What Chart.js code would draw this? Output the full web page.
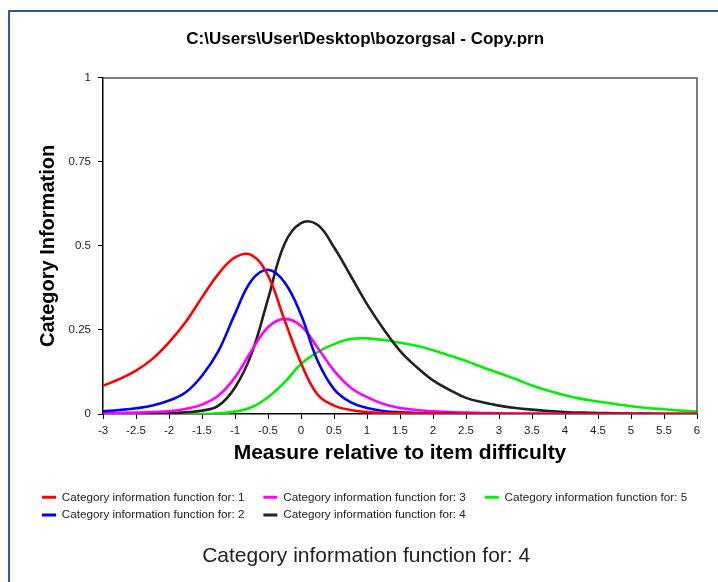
<!DOCTYPE html>
<html>
<head>
<meta charset="utf-8">
<script src="https://cdn.jsdelivr.net/npm/chart.js@4.4.1/dist/chart.umd.min.js"></script>
<style>
  html, body { margin: 0; padding: 0; background: #fff; overflow: hidden; }
  #frame { position: absolute; left: 8px; top: 10px; width: 800px; height: 700px; border: 2px solid #2f5c97; }
  #info-chart { position: absolute; left: 0; top: 0; }
</style>
</head>
<body>
<div id="frame"></div>
<canvas id="info-chart" width="718" height="582"></canvas>
<script>
// measure grid (logits relative to item difficulty)
let measures = [-3, -2.75, -2.5, -2.25, -2, -1.75, -1.5, -1.25, -1, -0.75, -0.5, -0.25, 0, 0.25, 0.5, 0.75, 1, 1.25, 1.5,
    1.75, 2, 2.25, 2.5, 2.75, 3, 3.25, 3.5, 3.75, 4, 4.25, 4.5, 4.75, 5, 5.25, 5.5, 5.75, 6];

// category information
let cat1 = [0.084, 0.104, 0.129, 0.164, 0.213, 0.273, 0.347, 0.417, 0.466, 0.473, 0.412, 0.28, 0.152, 0.058, 0.025, 0.012,
    0.006, 0.003, 0.002, 0.001, 0.001, 0, 0, 0, 0, 0, 0, 0, 0, 0, 0, 0, 0, 0, 0, 0, 0];
let cat2 = [0.008, 0.012, 0.017, 0.025, 0.04, 0.064, 0.114, 0.188, 0.298, 0.397, 0.429, 0.392, 0.295, 0.159, 0.074, 0.035,
    0.018, 0.009, 0.005, 0.003, 0.002, 0.001, 0, 0, 0, 0, 0, 0, 0, 0, 0, 0, 0, 0, 0, 0, 0];
let cat3 = [0.002, 0.003, 0.004, 0.006, 0.008, 0.015, 0.028, 0.055, 0.109, 0.188, 0.258, 0.283, 0.262, 0.198, 0.129, 0.079,
    0.05, 0.03, 0.018, 0.012, 0.008, 0.006, 0.004, 0.003, 0.002, 0.001, 0.001, 0, 0, 0, 0, 0, 0, 0, 0, 0, 0];
let cat4 = [0, 0, 0.001, 0.001, 0.002, 0.005, 0.01, 0.025, 0.079, 0.179, 0.342, 0.506, 0.568, 0.563, 0.496, 0.412,
    0.327, 0.253, 0.188, 0.14, 0.1, 0.072, 0.048, 0.035, 0.025, 0.018, 0.013, 0.009, 0.006, 0.004, 0.003, 0.002, 0.001,
    0.001, 0, 0, 0];
let cat5 = [0, 0, 0, 0, 0, 0, 0, 0.002, 0.007, 0.02, 0.05, 0.094, 0.149, 0.184, 0.208, 0.223, 0.225, 0.22, 0.212, 0.203,
    0.19, 0.174, 0.158, 0.139, 0.122, 0.104, 0.085, 0.069, 0.056, 0.045, 0.037, 0.03, 0.023, 0.018, 0.014, 0.01, 0.007];

let seriesNames = ['Category information function for: 1', 'Category information function for: 2',
    'Category information function for: 3', 'Category information function for: 4',
    'Category information function for: 5'];
let seriesColors = ['#ff0000', '#0000ff', '#ff00ff', '#222222', '#00ee00'];
let seriesValues = [cat1, cat2, cat3, cat4, cat5];
let legendOrder = [0, 2, 4, 1, 3]; // legend fills by column in the original

let font = "'Liberation Sans', Arial, sans-serif";

let datasets = seriesValues.map(function (vals, i) {
    return {
        label: seriesNames[i],
        data: vals.map(function (v, j) { return {x: measures[j], y: v}; }),
        borderColor: seriesColors[i],
        backgroundColor: seriesColors[i],
        borderWidth: 2.6,
        pointRadius: 0,
        tension: 0.4,
        fill: false
    };
});

// grey box on top and right of the plot
let plotFrame = {
    id: 'plotFrame',
    afterDatasetsDraw: function (chart) {
        let a = chart.chartArea, ctx = chart.ctx;
        ctx.save();
        ctx.strokeStyle = '#555';
        ctx.lineWidth = 1.5;
        ctx.beginPath();
        ctx.moveTo(a.left, a.top);
        ctx.lineTo(a.right, a.top);
        ctx.lineTo(a.right, a.bottom);
        ctx.stroke();
        ctx.restore();
    }
};

let plainNumber = function (value) { return String(value); };

window.onload = function () {
    let ctx = document.getElementById('info-chart').getContext('2d');
    new Chart(ctx, {
        type: 'line',
        data: {datasets: datasets},
        plugins: [plotFrame],
        options: {
            responsive: false,
            animation: false,
            devicePixelRatio: 1,
            layout: {padding: {left: 36, right: 0, top: 0, bottom: 0}},
            plugins: {
                title: {
                    display: true,
                    // trailing spaces pull the centred text left a bit
                    text: 'C:\\Users\\User\\Desktop\\bozorgsal - Copy.prn     ',
                    color: '#000',
                    font: {family: font, size: 17, weight: 'bold'},
                    padding: {top: 29.5, bottom: 28}
                },
                subtitle: {
                    display: true,
                    position: 'bottom',
                    text: 'Category information function for: 4   \u2009',
                    color: '#222',
                    font: {family: font, size: 21, weight: 'normal'},
                    padding: {top: 12.5, bottom: 13.4}
                },
                legend: {
                    position: 'bottom',
                    align: 'start',
                    labels: {
                        boxWidth: 14,
                        boxHeight: 3,
                        padding: 6,
                        color: '#222',
                        font: {family: font, size: 11.7},
                        generateLabels: function (chart) {
                            let items = Chart.defaults.plugins.legend.labels.generateLabels(chart);
                            return legendOrder.map(function (k) {
                                let l = items[k];
                                l.text = l.text + '    ';
                                l.lineWidth = 0;
                                return l;
                            });
                        }
                    }
                },
                tooltip: {enabled: false}
            },
            scales: {
                x: {
                    type: 'linear',
                    min: -3,
                    max: 6,
                    afterFit: function (scale) { scale.height = 71.5; },
                    ticks: {stepSize: 0.5, color: '#222', font: {family: font, size: 11.5}, padding: 5,
                        maxRotation: 0, autoSkip: false, callback: plainNumber},
                    grid: {drawOnChartArea: false, tickLength: 5, color: '#000'},
                    border: {color: '#000', width: 1.5},
                    title: {
                        display: true,
                        text: 'Measure relative to item difficulty',
                        color: '#000',
                        font: {family: font, size: 21, weight: 'bold'},
                        padding: {top: 0, bottom: 19.4}
                    }
                },
                y: {
                    min: 0,
                    max: 1,
                    afterFit: function (scale) { scale.width = 67; },
                    ticks: {stepSize: 0.25, color: '#222', font: {family: font, size: 11.5}, padding: 7,
                        callback: plainNumber},
                    grid: {drawOnChartArea: false, tickLength: 5, color: '#000'},
                    border: {color: '#000', width: 1.5},
                    title: {
                        display: true,
                        text: 'Category Information',
                        color: '#000',
                        font: {family: font, size: 20, weight: 'bold'},
                        padding: {top: 0, bottom: 0}
                    }
                },
                // empty right axis, only keeps the 21px margin right of the plot
                yRight: {
                    position: 'right',
                    display: true,
                    afterFit: function (scale) { scale.width = 21; },
                    ticks: {display: false},
                    grid: {display: false},
                    border: {display: false}
                }
            }
        }
    });
};
</script>
</body>
</html>
